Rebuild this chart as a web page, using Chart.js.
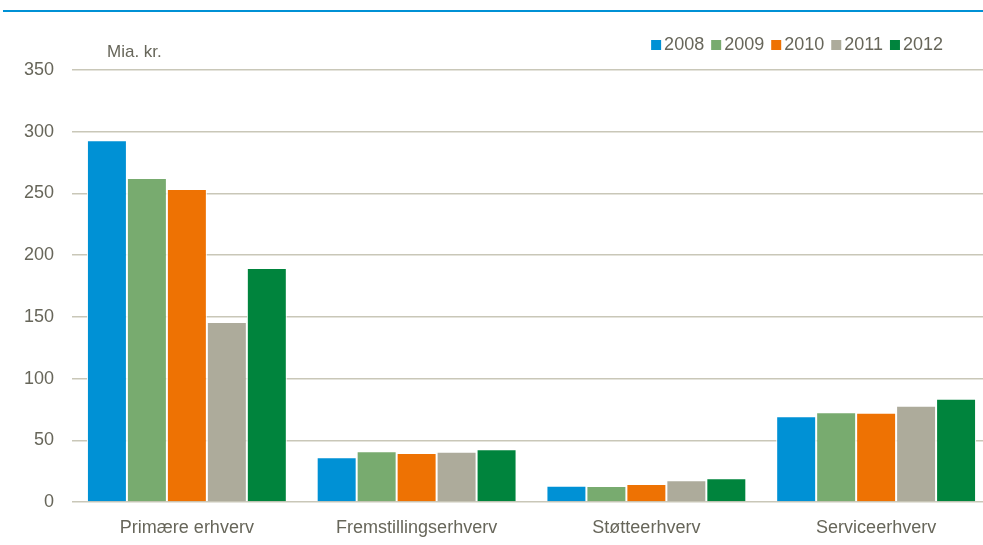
<!DOCTYPE html>
<html>
<head>
<meta charset="utf-8">
<script src="https://cdn.jsdelivr.net/npm/chart.js@4.4.1/dist/chart.umd.min.js"></script>
<style>
  html, body { margin: 0; padding: 0; background: #fff; overflow: hidden; }
  #wrap { position: relative; width: 991px; height: 545px; }
</style>
</head>
<body>
<div id="wrap"><canvas id="myChart"></canvas></div>
<script>
const categories = ['Primære erhverv', 'Fremstillingserhverv', 'Støtteerhverv', 'Serviceerhverv'];
const years = ['2008', '2009', '2010', '2011', '2012'];
const values2008 = [293, 36.2, 13.2, 69.4];
const values2009 = [262.5, 41.1, 13, 72.7];
const values2010 = [253.6, 39.7, 14.6, 72.4];
const values2011 = [145.9, 40.8, 17.6, 78];
const values2012 = [189.6, 42.7, 19.2, 83.7];
const yTicks = [0, 50, 100, 150, 200, 250, 300, 350];
const unitLabel = 'Mia. kr.';

const colors = ['#0091d5', '#78ab6f', '#ee7203', '#adab9b', '#00843d'];
const textColor = '#67665a';
const fontFamily = "'Liberation Sans Narrow', 'Arial Narrow', 'Liberation Sans', Arial, sans-serif";

const allValues = [values2008, values2009, values2010, values2011, values2012];
const datasets = years.map((y, i) => ({
    label: y,
    data: allValues[i],
    backgroundColor: colors[i],
    borderColor: '#ffffff',
    borderWidth: 1,
    borderSkipped: 'bottom',
    categoryPercentage: 0.87,
    barPercentage: 1.0
}));

// blue rule at the top, unit text and the legend row
const decorations = {
    id: 'decorations',
    afterDraw(chart) {
        const c = chart.ctx;
        c.save();
        c.fillStyle = '#0091d5';
        c.fillRect(3, 10, 980, 2);

        c.fillStyle = textColor;
        c.font = '17px ' + fontFamily;
        c.textBaseline = 'middle';
        c.textAlign = 'left';
        c.fillText(unitLabel, 107, 52);

        c.font = '18px ' + fontFamily;
        let x = 943;
        const items = chart.data.datasets.slice().reverse();
        items.forEach((ds) => {
            const w = c.measureText(ds.label).width;
            x -= w;
            c.fillStyle = textColor;
            c.fillText(ds.label, x, 45);
            x -= 13;
            c.fillStyle = ds.backgroundColor;
            c.fillRect(x, 40, 10, 10);
            x -= 7;
        });
        c.restore();
    }
};

const ctx = document.getElementById('myChart').getContext('2d');
const myChart = new Chart(ctx, {
    type: 'bar',
    data: { labels: categories, datasets: datasets },
    options: {
        responsive: true,
        maintainAspectRatio: false,
        animation: false,
        layout: { padding: { top: 70, bottom: 0, left: 0, right: 0 } },
        plugins: {
            legend: { display: false },
            tooltip: { enabled: false }
        },
        scales: {
            x: {
                afterFit(scale) { scale.height = 43; },
                grid: { display: false },
                border: { display: false },
                ticks: {
                    color: textColor,
                    font: { family: fontFamily, size: 18 },
                    padding: 7,
                    maxRotation: 0
                }
            },
            y: {
                min: 0,
                max: 350,
                afterBuildTicks(scale) {
                    scale.ticks = yTicks.map(v => ({ value: v }));
                },
                afterFit(scale) { scale.width = 72; },
                grid: {
                    color: '#c9c7b8',
                    lineWidth: 1.5,
                    drawTicks: false
                },
                border: { display: false },
                ticks: {
                    color: textColor,
                    font: { family: fontFamily, size: 18 },
                    padding: 18
                }
            }
        }
    },
    plugins: [decorations]
});
</script>
</body>
</html>
